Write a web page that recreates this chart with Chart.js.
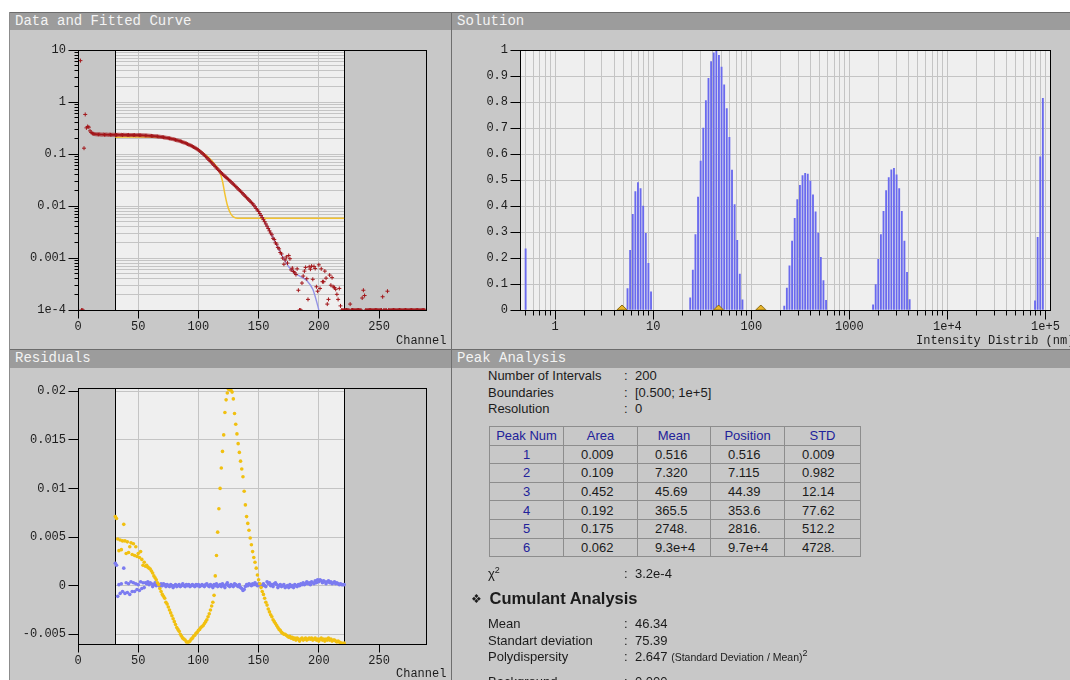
<!DOCTYPE html>
<html lang="en">
<head>
<meta charset="UTF-8" />
<title>Data and Fitted Curve / Solution / Residuals / Peak Analysis</title>
<style>
  body {
    margin: 0;
    width: 1070px; height: 680px;
    position: relative; overflow: hidden;
    background: #fff;
    font-family: 'Liberation Sans', Arial, sans-serif;
    color: #1b1b1b;
  }
  .frame { position: absolute; left: 9px; top: 12px; width: 1061px; height: 668px; background: #c8c8c8; border-left: 1px solid #8c8c8c; box-sizing: border-box; }
  .divider { position: absolute; left: 451px; top: 12px; width: 1px; height: 668px; background: #6f6f6f; }
  .bar {
    position: absolute; height: 18px;
    background: #9c9c9c; border-top: 1px solid #6c6c6c; box-sizing: border-box;
    color: #f3f3f3; font: 14px 'Liberation Mono', monospace; line-height: 17px;
    padding-left: 5px; white-space: nowrap;
  }
  canvas { position: absolute; }
  .axname { position: absolute; font: 12px 'Liberation Mono', monospace; color: #1c1c1c; white-space: nowrap; line-height: 14px; }
  .clip { position: absolute; overflow: hidden; }

  /* Peak Analysis text panel */
  #peaks { position: absolute; left: 452px; top: 368px; width: 618px; height: 312px; overflow: hidden; font-size: 13px; }
  .kv { position: absolute; left: 36px; display: grid; grid-template-columns: 136px 11px auto; line-height: 16.7px; white-space: nowrap; }
  .kv small { font-size: 10.5px; }
  sup { font-size: 9px; line-height: 0; vertical-align: 5px; }
  .head { position: absolute; left: 19px; font-weight: bold; font-size: 16.5px; line-height: 20px; white-space: nowrap; }
  .head .dots { display: inline-block; width: 18.6px; font-size: 12px; font-weight: normal; vertical-align: 1px; }
  #peakTable { position: absolute; left: 37px; top: 58px; border-collapse: collapse; table-layout: fixed; width: 371px; font-size: 13px; }
  #peakTable td, #peakTable th { border: 1px solid #8d8d8d; height: 17.6px; padding: 0 0 0 17px; text-align: left; font-weight: normal; line-height: 17px; }
  #peakTable th { color: #22229a; text-align: center; padding: 0; }
  #peakTable td.n { color: #22229a; text-align: center; padding: 0; }
</style>
</head>
<body>
  <div class="frame"></div>

  <div class="bar" style="left:10px; top:12px; width:441px;">Data and Fitted Curve</div>
  <div class="bar" style="left:452px; top:12px; width:618px;">Solution</div>
  <div class="bar" style="left:10px; top:349px; width:441px; height:19px;">Residuals</div>
  <div class="bar" style="left:452px; top:349px; width:618px; height:19px;">Peak Analysis</div>
  <div class="divider"></div>

  <canvas id="fitChart" width="441" height="318" style="left:10px; top:31px;"></canvas>
  <canvas id="solChart" width="618" height="318" style="left:452px; top:31px;"></canvas>
  <canvas id="resChart" width="441" height="311" style="left:10px; top:369px;"></canvas>

  <span class="axname" style="left:396px; top:334px;">Channel</span>
  <span class="axname" style="left:396px; top:667px;">Channel</span>
  <div class="clip" style="left:452px; top:330px; width:618px; height:19px;">
    <span class="axname" style="left:464px; top:4px;">Intensity Distrib (nm)</span>
  </div>

  <div id="peaks">
    <div class="kv" style="top:0;">
      <span>Number of Intervals</span><span>:</span><span>200</span>
      <span>Boundaries</span><span>:</span><span>[0.500; 1e+5]</span>
      <span>Resolution</span><span>:</span><span>0</span>
    </div>
    <table id="peakTable">
      <colgroup><col style="width:74px"><col style="width:74px"><col style="width:73px"><col style="width:74px"><col style="width:76px"></colgroup>
      <tr><th>Peak Num</th><th>Area</th><th>Mean</th><th>Position</th><th>STD</th></tr>
      <tr><td class="n">1</td><td>0.009</td><td>0.516</td><td>0.516</td><td>0.009</td></tr>
      <tr><td class="n">2</td><td>0.109</td><td>7.320</td><td>7.115</td><td>0.982</td></tr>
      <tr><td class="n">3</td><td>0.452</td><td>45.69</td><td>44.39</td><td>12.14</td></tr>
      <tr><td class="n">4</td><td>0.192</td><td>365.5</td><td>353.6</td><td>77.62</td></tr>
      <tr><td class="n">5</td><td>0.175</td><td>2748.</td><td>2816.</td><td>512.2</td></tr>
      <tr><td class="n">6</td><td>0.062</td><td>9.3e+4</td><td>9.7e+4</td><td>4728.</td></tr>
    </table>
    <div class="kv" style="top:198px;"><span>χ<sup>2</sup></span><span>:</span><span>3.2e-4</span></div>
    <div class="head" style="top:220px;"><span class="dots">❖</span>Cumulant Analysis</div>
    <div class="kv" style="top:248px;">
      <span>Mean</span><span>:</span><span>46.34</span>
      <span>Standart deviation</span><span>:</span><span>75.39</span>
      <span>Polydispersity</span><span>:</span><span>2.647 <small>(Standard Deviation / Mean)<sup>2</sup></small></span>
    </div>
    <div class="kv" style="top:306px;"><span>Background</span><span>:</span><span>0.000</span></div>
  </div>

  <script src="https://cdn.jsdelivr.net/npm/chart.js"></script>
  <script>
    // ---- Data and Fitted Curve (index = channel) ----
    const fitData = [
      null, null, 6.3, 1e-4, 1e-4, 0.13, 0.58, 0.32, 0.34, 0.33,
      0.28, 0.26, 0.25, 0.246, 0.243, 0.241, 0.240, 0.239, 0.240, 0.238,
      0.237, 0.239, 0.236, 0.237, 0.238, 0.235, 0.237, 0.236, 0.235, 0.236,
      0.235, 0.236, 0.234, 0.235, 0.236, 0.234, 0.235, 0.233, 0.235, 0.234,
      0.234, 0.233, 0.234, 0.232, 0.233, 0.233, 0.232, 0.233, 0.231, 0.232,
      0.232, 0.231, 0.231, 0.230, 0.230, 0.229, 0.228, 0.228, 0.227, 0.226,
      0.225, 0.224, 0.223, 0.222, 0.221, 0.220, 0.219, 0.217, 0.216, 0.214,
      0.213, 0.211, 0.209, 0.207, 0.205, 0.203, 0.201, 0.199, 0.196, 0.194,
      0.191, 0.188, 0.185, 0.183, 0.180, 0.177, 0.174, 0.170, 0.167, 0.164,
      0.160, 0.156, 0.152, 0.149, 0.145, 0.141, 0.137, 0.133, 0.129, 0.124,
      0.120, 0.115, 0.110, 0.105, 0.100, 0.0955, 0.0903, 0.0854, 0.0807, 0.0763,
      0.0724, 0.0683, 0.0645, 0.0609, 0.0575, 0.0543, 0.0514, 0.0486, 0.0460, 0.0435,
      0.0412, 0.0392, 0.0374, 0.0356, 0.0340, 0.0324, 0.0308, 0.0293, 0.0278, 0.0264,
      0.0251, 0.0238, 0.0226, 0.0214, 0.0203, 0.0193, 0.0182, 0.0172, 0.0163, 0.0154,
      0.0146, 0.0138, 0.0131, 0.0124, 0.0117, 0.0111, 0.0104, 0.0097, 0.0090, 0.0084,
      0.00785, 0.00718, 0.00656, 0.00600, 0.00548, 0.00501, 0.00453, 0.00410, 0.00371, 0.00334,
      0.00302, 0.00280, 0.00240, 0.00228, 0.00196, 0.00185, 0.00160, 0.00150, 0.00128, 0.00120,
      0.00100, 0.00076, 0.00092, 0.00105, 0.00080, 0.00112, 0.00097, 0.00059, 0.00064, 0.00055,
      0.00052, 0.00048, 0.00062, 0.00024, 1e-4, 1e-4, 0.00033, 0.00045, 0.00056, 0.00066,
      0.00040, 0.00016, 0.00068, 0.00061, 0.00070, 0.00039, 0.00069, 0.00063, 0.00028, 0.00023,
      0.00074, 0.00026, 0.00062, 0.00035, 0.00035, 0.00056, 0.00041, 0.00013, 0.00016, 0.00047,
      0.00030, 0.00042, 0.00028, 0.00027, 0.00025, 0.00020, 0.00016, 0.00026, 0.00012, 1e-4,
      1e-4, 1e-4, 1e-4, 1e-4, 1e-4, 1e-4, 0.00013, 1e-4, 1e-4, 1e-4,
      1e-4, 1e-4, 1e-4, 1e-4, 1e-4, 1e-4, 0.00017, 0.00024, 0.00019, 1e-4,
      1e-4, 1e-4, 1e-4, 1e-4, 1e-4, 1e-4, 1e-4, 1e-4, 1e-4, 1e-4,
      1e-4, 1e-4, 1e-4, 0.00018, 1e-4, 1e-4, 1e-4, 0.00023, 1e-4, 1e-4,
      1e-4, 1e-4, 1e-4, 1e-4, 1e-4, 1e-4, 1e-4, 1e-4, 1e-4, 1e-4,
      1e-4, 1e-4, 1e-4, 1e-4, 1e-4, 1e-4, 1e-4, 1e-4, 1e-4, 1e-4,
      1e-4, 1e-4, 1e-4, 1e-4, 1e-4, 1e-4, 1e-4, 1e-4, 1e-4
    ];
    // fitted curve (blue) and single-exponent curve (yellow)
    const fitCurveCh  = [31, 50, 70, 90, 100, 110, 120, 130, 140, 150, 160, 170, 175, 180, 185, 190, 195, 198, 200];
    const fitCurveVal = [0.235, 0.232, 0.213, 0.160, 0.120, 0.0724, 0.0412, 0.0251, 0.0146, 0.00785, 0.00302, 0.00106, 0.00068, 0.00051, 0.00044, 0.00037, 0.00025, 0.00015, 0.0001];
    const altCurveCh  = [31, 50, 65, 75, 85, 95, 105, 110, 114, 116, 118, 120, 122, 124, 126, 128, 131, 135, 221];
    const altCurveVal = [0.212, 0.214, 0.214, 0.205, 0.180, 0.142, 0.100, 0.080, 0.062, 0.054, 0.044, 0.030, 0.017, 0.0105, 0.0078, 0.0065, 0.0059, 0.0058, 0.0058];
    const fitWindow = [31, 221];

    // ---- Residuals, channels 31..221 ----
    const residFirst = 31;
    const residAlt = [
      0.0071, 0.0069, 0.0048, 0.0036, 0.0047, 0.0037, 0.0046, 0.0063, 0.0046, 0.0033,
      0.0045, 0.0034, 0.0040, 0.0044, 0.0032, 0.0043, 0.0031, 0.0040, 0.0030, 0.0033,
      0.0029, 0.0035, 0.0027, 0.0021, 0.0024, 0.0020, 0.0021, 0.0019, 0.0018, 0.0017,
      0.0015, 0.0013, 0.0010, 0.0008, 0.0006, 0.0003, 0.0001, -0.0003, -0.0006, -0.0009,
      -0.0011, -0.0013, -0.0017, -0.0019, -0.0022, -0.0025, -0.0028, -0.0031, -0.0034, -0.0037,
      -0.0040, -0.0043, -0.0045, -0.0047, -0.0050, -0.0052, -0.0054, -0.0055, -0.0056, -0.0058,
      -0.0058, -0.0058, -0.0057, -0.0055, -0.0054, -0.0052, -0.0051, -0.0049, -0.0048, -0.0046,
      -0.0045, -0.0043, -0.0042, -0.0041, -0.0039, -0.0037, -0.0035, -0.0032, -0.0029, -0.0025,
      -0.0021, -0.0017, -0.0010, 0.0010, 0.0031, 0.0055, 0.0079, 0.0100, 0.0121, 0.0138,
      0.0155, 0.0178, 0.0191, 0.0198, 0.0202, 0.0203, 0.0201, 0.0199, 0.0192, 0.0177,
      0.0166, 0.0156, 0.0146, 0.0137, 0.0128, 0.0120, 0.0112, 0.0097, 0.0083, 0.0071,
      0.0064, 0.0057, 0.0049, 0.0042, 0.0035, 0.0029, 0.0024, 0.0018, 0.0011, 0.0006,
      0.0002, -0.0002, -0.0006, -0.0009, -0.0013, -0.0017, -0.0020, -0.0024, -0.0027, -0.0030,
      -0.0032, -0.0035, -0.0037, -0.0039, -0.0041, -0.0043, -0.0045, -0.0046, -0.0048, -0.0049,
      -0.0050, -0.0050, -0.0051, -0.0052, -0.0053, -0.0052, -0.0054, -0.0053, -0.0055, -0.0054,
      -0.0056, -0.0054, -0.0055, -0.0057, -0.0055, -0.0054, -0.0056, -0.0055, -0.0054, -0.0056,
      -0.0055, -0.0054, -0.0055, -0.0054, -0.0056, -0.0055, -0.0054, -0.0056, -0.0055, -0.0057,
      -0.0055, -0.0054, -0.0056, -0.0055, -0.0057, -0.0055, -0.0056, -0.0054, -0.0056, -0.0055,
      -0.0057, -0.0056, -0.0056, -0.0057, -0.0058, -0.0057, -0.0058, -0.0059, -0.0059, -0.0060, -0.0059
    ];
    const residFit = [
      0.0023, 0.0021, -0.0011, 0.0001, -0.0008, 0.0002, -0.0006, 0.0018, -0.0008, 0.0003,
      -0.0007, 0.0002, -0.0009, 0.0004, -0.0006, 0.0003, -0.0006, 0.0002, -0.0004, 0.0001,
      -0.0005, 0.0004, -0.0003, 0.0003, -0.0002, 0.0003, 0.0002, 0.0004, 0.0001, 0.0003,
      0.0002, -0.0001, 0.0001, 0.0003, 0.0000, 0.0002, 0.0001, -0.0001, 0.0002, 0.0000,
      0.0002, 0.0001, -0.0001, 0.0001, 0.0000, -0.0001, 0.0001, 0.0000, -0.0002, 0.0000,
      0.0001, -0.0001, 0.0000, 0.0001, -0.0001, 0.0000, 0.0002, 0.0000, -0.0001, 0.0001,
      0.0000, 0.0001, -0.0001, 0.0000, 0.0001, 0.0000, -0.0001, 0.0001, 0.0000, 0.0001,
      -0.0001, 0.0000, 0.0001, 0.0000, -0.0001, 0.0001, 0.0002, 0.0000, -0.0001, 0.0001,
      0.0000, -0.0002, 0.0001, 0.0000, 0.0002, -0.0001, 0.0000, 0.0001, -0.0001, 0.0002,
      0.0000, -0.0002, 0.0001, 0.0003, 0.0000, -0.0001, 0.0001, 0.0000, -0.0001, 0.0002,
      0.0001, 0.0000, -0.0001, 0.0001, -0.0002, -0.0003, -0.0005, -0.0004, -0.0001, 0.0001,
      0.0000, 0.0002, 0.0001, 0.0000, 0.0002, 0.0001, 0.0003, 0.0001, 0.0000, 0.0002,
      0.0001, -0.0001, 0.0000, 0.0002, 0.0000, -0.0001, 0.0004, 0.0002, 0.0003, 0.0000,
      0.0001, -0.0001, 0.0002, 0.0003, 0.0001, -0.0002, 0.0000, 0.0001, -0.0001, 0.0000,
      0.0001, -0.0002, -0.0001, 0.0000, -0.0002, 0.0001, -0.0001, 0.0000, -0.0002, 0.0001,
      0.0000, -0.0001, 0.0001, 0.0000, 0.0002, 0.0001, 0.0003, 0.0001, 0.0002, 0.0004,
      0.0002, 0.0003, 0.0001, 0.0004, 0.0003, 0.0002, 0.0005, 0.0003, 0.0006, 0.0004,
      0.0006, 0.0005, 0.0003, 0.0005, 0.0004, 0.0002, 0.0004, 0.0005, 0.0003, 0.0004,
      0.0002, 0.0003, 0.0004, 0.0002, 0.0003, 0.0002, 0.0001, 0.0002, 0.0001, 0.0001, 0.0001
    ];

    // ---- Solution: intensity distribution over 200 log-spaced intervals ----
    const nIntervals = 200;
    const boundaries = [0.5, 1e5];
    const peakStartBin = [0, 39, 63, 99, 133, 195];
    const peakHeights = [
      [0.235],
      [0.082, 0.23, 0.368, 0.456, 0.49, 0.467, 0.40, 0.295, 0.18, 0.07],
      [0.047, 0.154, 0.29, 0.435, 0.573, 0.70, 0.806, 0.892, 0.956, 0.99, 1.0, 0.98, 0.935, 0.867, 0.775, 0.665, 0.539, 0.406, 0.268, 0.138, 0.039],
      [0.015, 0.084, 0.17, 0.265, 0.353, 0.425, 0.48, 0.517, 0.526, 0.523, 0.496, 0.443, 0.378, 0.296, 0.203, 0.113, 0.037],
      [0.02, 0.098, 0.195, 0.29, 0.38, 0.46, 0.51, 0.54, 0.545, 0.52, 0.467, 0.38, 0.265, 0.145, 0.04],
      [0.035, 0.28, 0.59, 0.815]
    ];
    const cumulantMarks = [4.8, 46.34, 125];

    // ---- axis ticks ----
    const chanTicks = [0, 50, 100, 150, 200, 250];
    const fitDecades = [1e-4, 1e-3, 1e-2, 0.1, 1, 10];
    const fitDecadeLabels = ['1e-4', '0.001', '0.01', '0.1', '1', '10'];
    const resTicks = [-0.005, 0, 0.005, 0.01, 0.015, 0.02];
    const resTickLabels = ['-0.005', '0', '0.005', '0.01', '0.015', '0.02'];
    const solYTicks = [0, 0.1, 0.2, 0.3, 0.4, 0.5, 0.6, 0.7, 0.8, 0.9, 1];
    const solYLabels = ['0', '0.1', '0.2', '0.3', '0.4', '0.5', '0.6', '0.7', '0.8', '0.9', '1'];
    const solDecades = [0.1, 1, 10, 100, 1000, 1e4, 1e5];
    const solDecadeLabels = ['', '1', '10', '100', '1000', '1e+4', '1e+5'];

    Chart.defaults.font.family = "'Liberation Mono', 'DejaVu Sans Mono', monospace";
    Chart.defaults.font.size = 12;
    Chart.defaults.color = '#1c1c1c';
    Chart.defaults.animation = false;
    Chart.defaults.events = [];
    Chart.defaults.plugins.legend.display = false;
    Chart.defaults.plugins.tooltip.enabled = false;

    const GRID = '#c4c4c4';

    function logTicks(decades, lo, hi) {
      const out = [];
      decades.forEach(d => {
        for (let m = 1; m <= 9; m++) {
          const v = d * m;
          if (v >= lo * 0.999 && v <= hi * 1.001) out.push(v);
        }
      });
      return out;
    }
    function labelFrom(values, labels) {
      return v => {
        const i = values.findIndex(d => Math.abs(v - d) <= Math.abs(d) * 1e-6 + 1e-12);
        return i < 0 ? '' : labels[i];
      };
    }
    function setTicks(values) {
      return scale => { scale.ticks = values.map(v => ({ value: v })); };
    }
    const crisp = p => Math.round(p - 0.5) + 0.5;

    // plot background, shaded area outside the fit window, frame and tick marks
    const axisFrame = {
      id: 'axisFrame',
      beforeDraw(chart, args, o) {
        const { ctx, chartArea: a } = chart;
        ctx.save();
        ctx.fillStyle = o.plotBg;
        ctx.fillRect(a.left, a.top, a.width, a.height + 1);
        ctx.restore();
      },
      beforeDatasetsDraw(chart, args, o) {
        if (!o.window) return;
        const { ctx, chartArea: a, scales: { x } } = chart;
        const x0 = crisp(x.getPixelForValue(o.window[0]));
        const x1 = crisp(x.getPixelForValue(o.window[1]));
        ctx.save();
        ctx.fillStyle = o.outsideBg;
        ctx.fillRect(a.left, a.top, x0 - a.left, a.height + 1);
        ctx.fillRect(x1, a.top, a.right - x1, a.height + 1);
        ctx.strokeStyle = '#000';
        ctx.lineWidth = 1;
        ctx.beginPath();
        ctx.moveTo(x0, a.top); ctx.lineTo(x0, a.bottom);
        ctx.moveTo(x1, a.top); ctx.lineTo(x1, a.bottom);
        ctx.stroke();
        ctx.restore();
      },
      afterDatasetsDraw(chart, args, o) {
        const { ctx, chartArea: a, scales: { x, y } } = chart;
        const L = crisp(a.left), R = crisp(a.right), T = crisp(a.top), B = crisp(a.bottom);
        ctx.save();
        ctx.strokeStyle = '#000';
        ctx.lineWidth = 1;
        ctx.strokeRect(L, T, R - L, B - T);
        ctx.beginPath();
        x.ticks.forEach(t => {
          const len = t.label ? o.xMajor : o.xMinor;
          if (!len) return;
          const px = crisp(x.getPixelForValue(t.value));
          ctx.moveTo(px, B); ctx.lineTo(px, B + len);
        });
        y.ticks.forEach(t => {
          const len = t.label ? o.yMajor : o.yMinor;
          if (!len) return;
          const py = crisp(y.getPixelForValue(t.value));
          ctx.moveTo(L - len, py); ctx.lineTo(L, py);
        });
        ctx.stroke();
        ctx.restore();
      }
    };

    function channelAxis(height) {
      return {
        type: 'linear', min: 0, max: 289,
        afterBuildTicks: setTicks(chanTicks),
        afterFit: s => { s.height = height; },
        grid: { color: GRID, drawTicks: false },
        border: { display: false },
        ticks: { autoSkip: false, maxRotation: 0, padding: 10, callback: v => String(v) }
      };
    }

    // Data and Fitted Curve
    new Chart(document.getElementById('fitChart'), {
      type: 'scatter',
      data: {
        datasets: [
          {
            data: fitData.map((v, ch) => ({ x: ch, y: v })),
            pointStyle: 'cross', pointRadius: 2, borderColor: '#a3161a', borderWidth: 1,
            order: 0
          },
          {
            type: 'line',
            data: fitCurveCh.map((c, i) => ({ x: c, y: fitCurveVal[i] })),
            borderColor: '#9393e6', borderWidth: 1.4, pointRadius: 0,
            cubicInterpolationMode: 'monotone', order: 1
          },
          {
            type: 'line',
            data: altCurveCh.map((c, i) => ({ x: c, y: altCurveVal[i] })),
            borderColor: '#f2c231', borderWidth: 1.5, pointRadius: 0,
            cubicInterpolationMode: 'monotone', order: 2
          }
        ]
      },
      options: {
        responsive: false,
        layout: { padding: { left: 0, top: 9, right: 25, bottom: 0 } },
        scales: {
          x: channelAxis(39),
          y: {
            type: 'logarithmic', min: 1e-4, max: 10, bounds: 'data',
            afterBuildTicks: setTicks(logTicks(fitDecades, 1e-4, 10)),
            afterFit: s => { s.width = 68; },
            grid: { color: GRID, drawTicks: false },
            border: { display: false },
            ticks: { autoSkip: false, padding: 12, callback: labelFrom(fitDecades, fitDecadeLabels) }
          }
        },
        plugins: {
          axisFrame: { plotBg: '#efefef', outsideBg: '#c6c6c6', window: fitWindow, xMajor: 8, xMinor: 0, yMajor: 10, yMinor: 4 }
        }
      },
      plugins: [axisFrame]
    });

    // Residuals
    new Chart(document.getElementById('resChart'), {
      type: 'scatter',
      data: {
        datasets: [
          {
            data: residAlt.map((v, i) => ({ x: residFirst + i, y: v })),
            pointRadius: 1.8, backgroundColor: '#f1c010', borderWidth: 0, order: 0
          },
          {
            data: residFit.map((v, i) => ({ x: residFirst + i, y: v })),
            pointRadius: 1.8, backgroundColor: '#7b7bf0', borderWidth: 0, order: 1
          }
        ]
      },
      options: {
        responsive: false,
        layout: { padding: { left: 0, top: 8, right: 25, bottom: 0 } },
        scales: {
          x: channelAxis(36),
          y: {
            type: 'linear', min: -0.006, max: 0.0203,
            afterBuildTicks: setTicks(resTicks),
            afterFit: s => { s.width = 68; },
            grid: { color: GRID, drawTicks: false },
            border: { display: false },
            ticks: { autoSkip: false, padding: 12, callback: labelFrom(resTicks, resTickLabels) }
          }
        },
        plugins: {
          axisFrame: { plotBg: '#efefef', outsideBg: '#c6c6c6', window: fitWindow, xMajor: 8, xMinor: 0, yMajor: 10, yMinor: 0 }
        }
      },
      plugins: [axisFrame]
    });

    // Solution
    const binCenter = i => boundaries[0] * Math.pow(boundaries[1] / boundaries[0], i / (nIntervals - 1));
    const solBars = [];
    peakStartBin.forEach((start, p) => {
      peakHeights[p].forEach((h, k) => solBars.push({ x: binCenter(start + k), y: h }));
    });

    function markerGlyph() {
      const c = document.createElement('canvas');
      c.width = 12; c.height = 12;
      const g = c.getContext('2d');
      g.beginPath();
      g.moveTo(6, 1); g.lineTo(11.2, 6); g.lineTo(0.8, 6); g.closePath();
      g.fillStyle = '#e8b52a';
      g.fill();
      g.strokeStyle = '#8a6a12';
      g.lineWidth = 1;
      g.stroke();
      return c;
    }

    const solXMin = 0.438, solXMax = 1.135e5;
    new Chart(document.getElementById('solChart'), {
      type: 'bar',
      data: {
        datasets: [
          {
            type: 'scatter',
            data: cumulantMarks.map(v => ({ x: v, y: 0 })),
            pointStyle: markerGlyph(), pointRadius: 5, order: 0
          },
          {
            data: solBars,
            backgroundColor: '#6a6aee', barThickness: 1.2, borderWidth: 0, order: 1
          }
        ]
      },
      options: {
        responsive: false,
        layout: { padding: { left: 0, top: 8, right: 12, bottom: 0 } },
        scales: {
          x: {
            type: 'logarithmic', min: solXMin, max: solXMax, bounds: 'data', offset: false,
            afterBuildTicks: setTicks(logTicks(solDecades, solXMin, solXMax)),
            afterFit: s => { s.height = 39; },
            grid: { color: GRID, drawTicks: false, offset: false },
            border: { display: false },
            ticks: { autoSkip: false, maxRotation: 0, padding: 10, callback: labelFrom(solDecades, solDecadeLabels) }
          },
          y: {
            type: 'linear', min: 0, max: 1,
            afterBuildTicks: setTicks(solYTicks),
            afterFit: s => { s.width = 68; },
            grid: { color: GRID, drawTicks: false },
            border: { display: false },
            ticks: { autoSkip: false, padding: 12, callback: labelFrom(solYTicks, solYLabels) }
          }
        },
        plugins: {
          axisFrame: { plotBg: '#efefef', xMajor: 9, xMinor: 5, yMajor: 10, yMinor: 0 }
        }
      },
      plugins: [axisFrame]
    });
  </script>
</body>
</html>
